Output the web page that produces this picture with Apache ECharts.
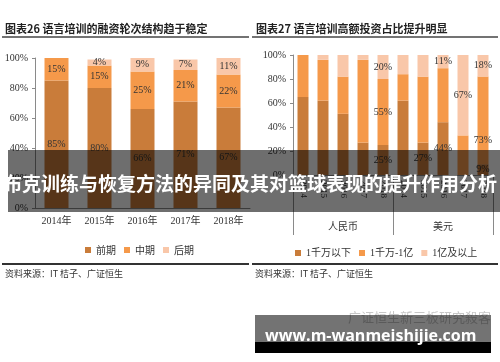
<!DOCTYPE html>
<html><head><meta charset="utf-8">
<script src="https://cdn.jsdelivr.net/npm/echarts@6/dist/echarts.min.js"></script>
<style>html,body{margin:0;padding:0;background:#fff}#c{width:500px;height:362px}</style>
</head><body><div id="c"></div>
<script>
// ---- data ----
const leftYears = ['2014年','2015年','2016年','2017年','2018年'];
const leftSeriesNames = ['前期','中期','后期'];
const leftEarly = [85,80,66,71,67];
const leftMid   = [15,15,25,21,22];
const leftLate  = [0,4,9,7,11];

const rightYears  = ['2014','2015','2016','2017','2018','2014','2015','2016','2017','2018'];
const rightGroups = ['人民币','美元'];
const rightSeriesNames = ['1千万以下','1千万-1亿','1亿及以上'];
const rightSmall  = [65,62,51,27,25,62,27,44,0,9];
const rightMedium = [35,34,31,69,55,22,55,45,33,73];
const rightLarge  = [0,4,18,4,20,16,18,11,67,18];
// which segments carry a printed value label in the original
const rightSmallLabeled  = [0,0,0,0,1,0,1,1,0,1];
const rightMediumLabeled = [0,0,0,0,1,0,0,0,0,1];
const rightLargeLabeled  = [0,0,0,0,1,0,0,1,1,1];

// ---- style ----
const serif = '"Liberation Serif","Noto Sans CJK SC",serif';
const cjk = '"Noto Sans CJK SC",sans-serif';
const txt = '#333';
const axisColor = '#8a8a8a';
const cDark = '#C97C3A', cMid = '#F5994A', cLight = '#F9C7A9';

function items(arr, mask){
  return arr.map((v,i)=>({value:v, label:{show: mask ? !!mask[i] : v>0}}));
}
const lbl = {show:true, position:'inside', color:txt, fontFamily:serif, fontSize:10, formatter:'{c}%'};

const rMidItems = items(rightMedium, rightMediumLabeled);
rMidItems[9].label.offset = [0,20];

const yAxisBase = {
  type:'value', min:0, max:100, interval:20,
  axisLine:{show:true, lineStyle:{color:axisColor}},
  axisTick:{show:true, length:3, lineStyle:{color:axisColor}},
  splitLine:{show:false},
  axisLabel:{formatter:'{value}%', color:txt, fontFamily:serif, fontSize:10, margin:7}
};

const chart = echarts.init(document.getElementById('c'));
chart.setOption({
  animation:false,
  grid:[
    {left:35, top:58, width:215, height:150},
    {left:293, top:55, width:200, height:120}
  ],
  xAxis:[
    {gridIndex:0, type:'category', data:leftYears,
     axisLine:{lineStyle:{color:axisColor}}, axisTick:{show:false},
     axisLabel:{color:txt, fontFamily:serif, fontSize:10, margin:8}},
    {gridIndex:1, type:'category', data:rightYears,
     axisLine:{lineStyle:{color:axisColor}}, axisTick:{show:false},
     axisLabel:{color:txt, fontFamily:serif, fontSize:9, rotate:-90, margin:5, interval:0}},
    {gridIndex:1, type:'category', data:rightGroups, position:'bottom', offset:60,
     axisLine:{show:false},
     axisTick:{show:true, inside:true, length:60, lineStyle:{color:axisColor}},
     axisLabel:{color:txt, fontFamily:cjk, fontSize:10, margin:-14}}
  ],
  yAxis:[
    Object.assign({gridIndex:0}, yAxisBase),
    Object.assign({gridIndex:1}, yAxisBase)
  ],
  legend:[
    {data:leftSeriesNames, left:80, top:240, icon:'rect', itemWidth:6, itemHeight:6, itemGap:8,
     selectedMode:false, textStyle:{fontSize:10, color:txt, fontFamily:cjk}},
    {data:rightSeriesNames, left:290, top:243, icon:'rect', itemWidth:6, itemHeight:6, itemGap:8,
     selectedMode:false, textStyle:{fontSize:10, color:txt, fontFamily:serif}}
  ],
  series:[
    {name:leftSeriesNames[0], type:'bar', stack:'L', xAxisIndex:0, yAxisIndex:0, barWidth:24,
     itemStyle:{color:cDark}, label:lbl, data:items(leftEarly)},
    {name:leftSeriesNames[1], type:'bar', stack:'L', xAxisIndex:0, yAxisIndex:0, barWidth:24,
     itemStyle:{color:cMid}, label:lbl, data:items(leftMid)},
    {name:leftSeriesNames[2], type:'bar', stack:'L', xAxisIndex:0, yAxisIndex:0, barWidth:24,
     itemStyle:{color:cLight}, label:lbl, data:items(leftLate)},
    {name:rightSeriesNames[0], type:'bar', stack:'R', xAxisIndex:1, yAxisIndex:1, barWidth:11,
     itemStyle:{color:cDark}, label:lbl, data:items(rightSmall, rightSmallLabeled)},
    {name:rightSeriesNames[1], type:'bar', stack:'R', xAxisIndex:1, yAxisIndex:1, barWidth:11,
     itemStyle:{color:cMid}, label:lbl, data:rMidItems},
    {name:rightSeriesNames[2], type:'bar', stack:'R', xAxisIndex:1, yAxisIndex:1, barWidth:11,
     itemStyle:{color:cLight}, label:lbl, data:items(rightLarge, rightLargeLabeled)}
  ],
  graphic:[
    {type:'text', left:5, top:23, style:{text:'图表26 语言培训的融资轮次结构趋于稳定', font:'bold 11px '+cjk, fill:'#222'}},
    {type:'text', left:256, top:23, style:{text:'图表27 语言培训高额投资占比提升明显', font:'bold 11px '+cjk, fill:'#222'}},
    {type:'line', shape:{x1:2,y1:37,x2:249,y2:37}, style:{stroke:'#444', lineWidth:1.5}},
    {type:'line', shape:{x1:252,y1:37,x2:498,y2:37}, style:{stroke:'#444', lineWidth:1.5}},
    {type:'line', shape:{x1:2,y1:264,x2:249,y2:264}, style:{stroke:'#333', lineWidth:2}},
    {type:'line', shape:{x1:252,y1:264,x2:498,y2:264}, style:{stroke:'#333', lineWidth:2}},
    {type:'text', left:5, top:269, style:{text:'资料来源：IT 桔子、广证恒生', font:'9px '+cjk, fill:'#333'}},
    {type:'text', left:255, top:269, style:{text:'资料来源：IT 桔子、广证恒生', font:'9px '+cjk, fill:'#333'}},
    {type:'text', z:99, left:348, top:311, style:{text:'广证恒生新三板研究殺客', font:'13px '+cjk, fill:'#c8c8c8'}},
    {type:'rect', z:100, shape:{x:8,y:150,width:492,height:62}, style:{fill:'rgba(0,0,0,0.57)'}},
    {type:'text', z:101, x:250, y:184, style:{text:'布克训练与恢复方法的异同及其对篮球表现的提升作用分析', font:'bold 19px '+cjk, fill:'#fff', align:'center', verticalAlign:'middle'}},
    {type:'rect', z:100, shape:{x:255,y:315,width:236,height:27}, style:{fill:'rgba(0,0,0,0.55)'}},
    {type:'rect', z:100, shape:{x:255,y:342,width:236,height:11}, style:{fill:'#000'}},
    {type:'text', z:101, x:265, y:336, style:{text:'www.m-wanmeishijie.com', font:'bold 16px "Open Sans",sans-serif', fill:'#fff', align:'left', verticalAlign:'middle'}}
  ]
});
</script>
</body></html>
